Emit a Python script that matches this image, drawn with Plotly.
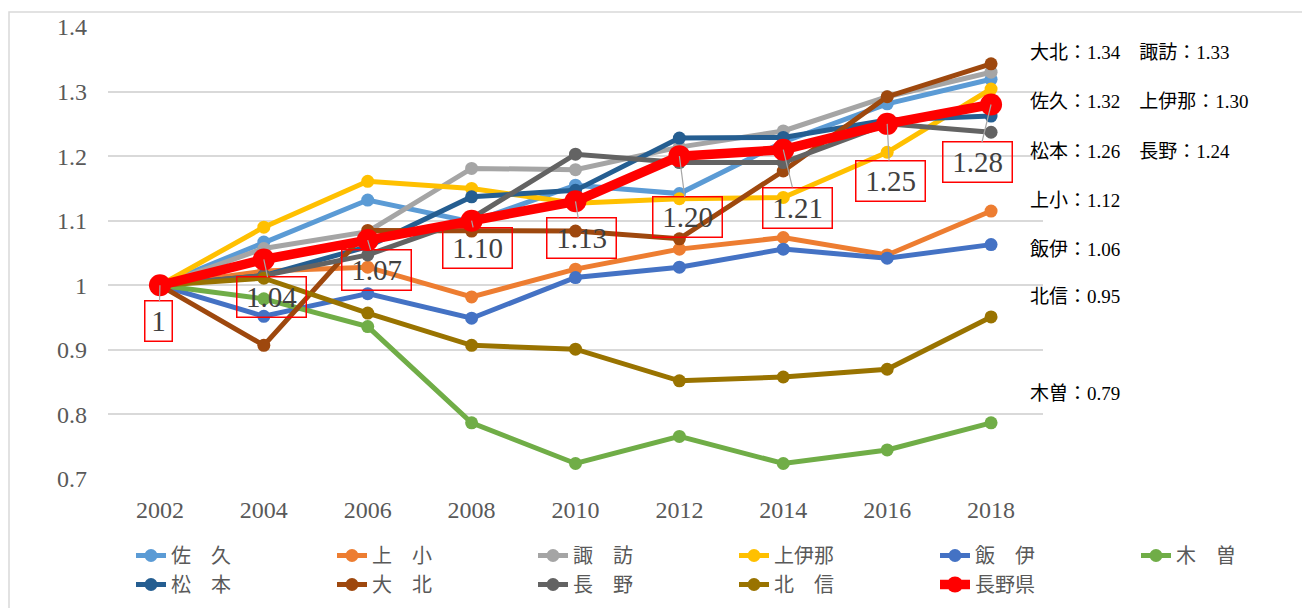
import plotly.graph_objects as go

years = ["2002", "2004", "2006", "2008", "2010", "2012", "2014", "2016", "2018"]

saku = [1.0, 1.067, 1.132, 1.098, 1.155, 1.142, 1.222, 1.281, 1.319]
ueda = [1.0, 1.022, 1.028, 0.982, 1.025, 1.056, 1.074, 1.047, 1.115]
suwa = [1.0, 1.057, 1.083, 1.181, 1.179, 1.214, 1.239, 1.292, 1.330]
kamiina = [1.0, 1.090, 1.161, 1.150, 1.127, 1.134, 1.136, 1.206, 1.304]
iida = [1.0, 0.952, 0.987, 0.949, 1.012, 1.028, 1.056, 1.042, 1.063]
kiso = [1.0, 0.979, 0.936, 0.787, 0.724, 0.766, 0.724, 0.745, 0.787]
matsumoto = [1.0, 1.015, 1.060, 1.137, 1.147, 1.228, 1.229, 1.256, 1.262]
daihoku = [1.0, 0.907, 1.085, 1.084, 1.084, 1.072, 1.177, 1.292, 1.343]
nagano = [1.0, 1.015, 1.047, 1.104, 1.203, 1.190, 1.190, 1.250, 1.237]
hokushin = [1.0, 1.011, 0.957, 0.907, 0.901, 0.852, 0.858, 0.870, 0.951]
pref = [1.0, 1.04, 1.07, 1.10, 1.13, 1.20, 1.21, 1.25, 1.28]
pref_labels = ["1", "1.04", "1.07", "1.10", "1.13", "1.20", "1.21", "1.25", "1.28"]

series_names = ["佐　久", "上　小", "諏　訪", "上伊那", "飯　伊", "木　曽",
                "松　本", "大　北", "長　野", "北　信"]
series_values = [saku, ueda, suwa, kamiina, iida, kiso, matsumoto, daihoku, nagano, hokushin]
series_colors = ["#5B9BD5", "#ED7D31", "#A5A5A5", "#FFC000", "#4472C4", "#70AD47",
                 "#255E91", "#9E480E", "#636363", "#997300"]

right_notes = ["大北：1.34　諏訪：1.33", "佐久：1.32　上伊那：1.30", "松本：1.26　長野：1.24",
               "上小：1.12", "飯伊：1.06", "北信：0.95", "木曽：0.79"]
right_note_px = [53, 102, 151, 200, 249, 297, 393]

label_offsets = [(-1, 36), (8, 38), (9, 30), (6, 27), (6, 37), (8, 61), (14, 58), (3, 57), (-14, 58)]

OFF = 8  # page body margin of the html page
W, H = 1310, 608
PLOT_L, PLOT_R, PLOT_T, PLOT_B = 108 - OFF, 1043 - OFF, 27 - OFF, 479 - OFF

fig = go.Figure()
for name, vals, col in zip(series_names, series_values, series_colors):
    fig.add_trace(go.Scatter(x=years, y=vals, name=name, mode="lines+markers",
                             line=dict(color=col, width=5),
                             marker=dict(color=col, size=13)))
fig.add_trace(go.Scatter(x=years, y=pref, name="長野県", mode="lines+markers",
                         line=dict(color="#FF0000", width=9.5),
                         marker=dict(color="#FF0000", size=22)))

annotations = []
for i, (v, lab, (dx, dy)) in enumerate(zip(pref, pref_labels, label_offsets)):
    annotations.append(dict(x=i, y=v, xref="x", yref="y", text=lab,
                            showarrow=True, arrowhead=0, arrowwidth=1.2, arrowcolor="#A6A6A6",
                            ax=dx, ay=dy, standoff=0,
                            font=dict(family="Liberation Serif, serif", size=29, color="#404040"),
                            bordercolor="#FF0000", borderwidth=1.5, borderpad=3,
                            width=(20 if len(lab) == 1 else 62), height=33))

ph = PLOT_B - PLOT_T
pw = PLOT_R - PLOT_L
for txt, py in zip(right_notes, right_note_px):
    annotations.append(dict(x=(1028 - OFF - PLOT_L) / pw, y=(PLOT_B - (py - OFF)) / ph,
                            xref="paper", yref="paper",
                            xanchor="left", yanchor="middle", showarrow=False, text=txt,
                            font=dict(family="Liberation Serif, Noto Sans CJK JP, serif", size=19,
                                      color="#000000")))

fig.update_layout(
    width=W, height=H,
    margin=dict(l=PLOT_L, r=W - PLOT_R, t=PLOT_T, b=H - PLOT_B, autoexpand=False),
    paper_bgcolor="white", plot_bgcolor="white",
    showlegend=True,
    legend=dict(orientation="h",
                x=(1329 - PLOT_L) / pw, xanchor="right",
                y=(PLOT_B - 528) / ph, yanchor="top",
                entrywidth=156, entrywidthmode="pixels", tracegroupgap=0,
                font=dict(family="Noto Sans CJK JP, sans-serif", size=20, color="#595959"),
                bgcolor="rgba(0,0,0,0)"),
    xaxis=dict(type="category", range=[-0.5, 8.5], showgrid=False, zeroline=False,
               showline=False, ticks="", ticklabelstandoff=14, automargin=False,
               tickfont=dict(family="Liberation Serif, serif", size=24, color="#595959")),
    yaxis=dict(range=[0.7, 1.4], tickvals=[0.7, 0.8, 0.9, 1.0, 1.1, 1.2, 1.3, 1.4],
               ticktext=["0.7", "0.8", "0.9", "1", "1.1", "1.2", "1.3", "1.4"],
               showgrid=True, gridcolor="#D9D9D9", gridwidth=2, zeroline=False,
               showline=False, ticks="", ticklabelstandoff=20, automargin=False,
               tickfont=dict(family="Liberation Serif, serif", size=24, color="#595959")),
    annotations=annotations,
    shapes=[dict(type="rect", xref="paper", yref="paper",
                 x0=(9 - OFF - PLOT_L) / pw, x1=(W + 20 - PLOT_L) / pw,
                 y0=(PLOT_B - (H + 20)) / ph, y1=(PLOT_B - (12 - OFF)) / ph,
                 line=dict(color="#D9D9D9", width=1.5), layer="below")],
)

fig.write_html("out.html")
